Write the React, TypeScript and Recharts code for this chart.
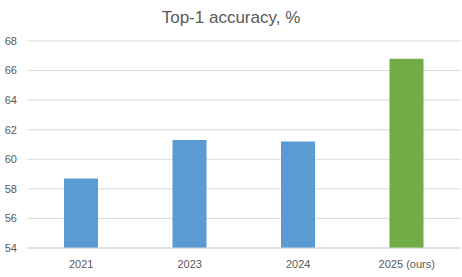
import { BarChart, Bar, XAxis, YAxis, CartesianGrid, Cell } from "recharts";

const years = ["2021", "2023", "2024", "2025 (ours)"];
const top1 = [58.7, 61.3, 61.2, 66.8];
const yTicks = [54, 56, 58, 60, 62, 64, 66, 68];

const ours = "2025 (ours)";
const font = "'Liberation Sans', Arial, sans-serif";

const data = years.map((year, i) => ({ year, value: top1[i] }));

export default function App() {
  return (
    <div style={{ position: "fixed", left: 0, top: 0, width: 462, height: 277, background: "#fff" }}>
      <div
        style={{
          position: "absolute",
          left: 0,
          top: 8,
          width: 462,
          textAlign: "center",
          fontFamily: font,
          fontSize: 17,
          color: "#595959",
        }}
      >
        Top-1 accuracy, %
      </div>
      <BarChart
        width={462}
        height={277}
        data={data}
        margin={{ top: 41, right: 1, left: 0, bottom: 0 }}
      >
        <CartesianGrid vertical={false} stroke="#d9d9d9" />
        <XAxis
          dataKey="year"
          height={29}
          tickLine={false}
          axisLine={{ stroke: "#d9d9d9" }}
          tick={{ fontSize: 11, fill: "#595959", fontFamily: font }}
          tickMargin={6}
        />
        <YAxis
          width={27}
          domain={[54, 68]}
          ticks={yTicks}
          tickLine={false}
          axisLine={false}
          tickMargin={4}
          tick={{ fontSize: 11, fill: "#595959", fontFamily: font }}
        />
        <Bar dataKey="value" barSize={34} isAnimationActive={false}>
          {data.map((d) => (
            <Cell key={d.year} fill={d.year === ours ? "#70ad47" : "#5b9bd5"} />
          ))}
        </Bar>
      </BarChart>
    </div>
  );
}
